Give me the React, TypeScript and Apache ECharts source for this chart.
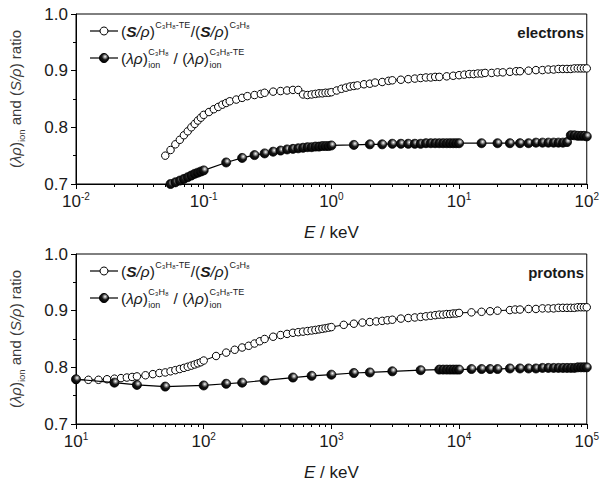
import React, { useEffect, useRef } from 'react';
import * as echarts from 'echarts';

const FONT = "'Liberation Sans', Arial, sans-serif";

// electrons: (S/rho) ratio, open circles  [E keV, ratio]
const elecStopping: [number, number][] = [
  [0.05, 0.750], [0.055, 0.760], [0.06, 0.770], [0.065, 0.778], [0.07, 0.786], [0.075, 0.793],
  [0.08, 0.800], [0.085, 0.806], [0.09, 0.812], [0.095, 0.817], [0.1, 0.822], [0.11, 0.827],
  [0.12, 0.832], [0.13, 0.836], [0.14, 0.840], [0.15, 0.843], [0.16, 0.846], [0.18, 0.849],
  [0.2, 0.852], [0.22, 0.855], [0.25, 0.857], [0.28, 0.859], [0.3, 0.861], [0.35, 0.863],
  [0.4, 0.864], [0.45, 0.865], [0.5, 0.866], [0.55, 0.866], [0.6, 0.858], [0.65, 0.857],
  [0.7, 0.858], [0.75, 0.859], [0.8, 0.860], [0.85, 0.860], [0.9, 0.861], [0.95, 0.861],
  [1.0, 0.862], [1.1, 0.865], [1.2, 0.868], [1.3, 0.870], [1.4, 0.872], [1.5, 0.873],
  [1.6, 0.874], [1.8, 0.876], [2, 0.877], [2.2, 0.879], [2.5, 0.880], [2.8, 0.882],
  [3, 0.883], [3.5, 0.884], [4, 0.885], [4.5, 0.886], [5, 0.887], [5.5, 0.888], [6, 0.888],
  [6.5, 0.889], [7, 0.889], [8, 0.890], [9, 0.891], [10, 0.892], [11, 0.893], [12, 0.894],
  [13, 0.894], [14, 0.895], [15, 0.895], [16, 0.896], [18, 0.896], [20, 0.897], [22, 0.897],
  [25, 0.898], [28, 0.899], [30, 0.899], [35, 0.900], [40, 0.901], [45, 0.901], [50, 0.902],
  [55, 0.902], [60, 0.903], [65, 0.903], [70, 0.903], [75, 0.903], [80, 0.904], [85, 0.904],
  [90, 0.904], [95, 0.904], [100, 0.904],
];

// electrons: (lambda rho)_ion ratio, filled circles
const elecIon: [number, number][] = [
  [0.05, 0.698], [0.055, 0.700], [0.06, 0.703], [0.065, 0.706], [0.07, 0.709], [0.075, 0.712],
  [0.08, 0.715], [0.085, 0.718], [0.09, 0.720], [0.095, 0.722], [0.1, 0.724], [0.15, 0.738],
  [0.2, 0.746], [0.25, 0.751], [0.3, 0.754], [0.35, 0.757], [0.4, 0.759], [0.45, 0.761],
  [0.5, 0.762], [0.55, 0.763], [0.6, 0.764], [0.65, 0.765], [0.7, 0.765], [0.75, 0.766],
  [0.8, 0.766], [0.85, 0.767], [0.9, 0.767], [0.95, 0.767], [1.0, 0.768], [1.5, 0.769],
  [2, 0.770], [2.5, 0.770], [3, 0.771], [3.5, 0.771], [4, 0.771], [4.5, 0.771], [5, 0.771],
  [5.5, 0.772], [6, 0.772], [6.5, 0.772], [7, 0.772], [7.5, 0.772], [8, 0.772], [8.5, 0.772],
  [9, 0.772], [9.5, 0.772], [10, 0.772], [15, 0.772], [20, 0.772], [25, 0.772], [30, 0.772],
  [35, 0.772], [40, 0.773], [45, 0.773], [50, 0.773], [55, 0.773], [60, 0.773], [65, 0.773],
  [70, 0.774], [75, 0.786], [80, 0.786], [85, 0.785], [90, 0.785], [95, 0.785], [100, 0.784],
];

// protons: (S/rho) ratio, open circles
const protStopping: [number, number][] = [
  [10, 0.778], [12.5, 0.778], [15, 0.778], [17.5, 0.779], [20, 0.780], [22.5, 0.781],
  [25, 0.782], [27.5, 0.783], [30, 0.784], [35, 0.786], [40, 0.788], [45, 0.790], [50, 0.791],
  [55, 0.793], [60, 0.795], [65, 0.797], [70, 0.799], [75, 0.801], [80, 0.803], [85, 0.805],
  [90, 0.807], [95, 0.809], [100, 0.812], [125, 0.820], [150, 0.826], [175, 0.831],
  [200, 0.835], [225, 0.838], [250, 0.842], [275, 0.846], [300, 0.850], [350, 0.854],
  [400, 0.857], [450, 0.859], [500, 0.861], [550, 0.862], [600, 0.863], [650, 0.864],
  [700, 0.865], [750, 0.866], [800, 0.867], [850, 0.868], [900, 0.869], [950, 0.870],
  [1000, 0.871], [1250, 0.875], [1500, 0.877], [1750, 0.879], [2000, 0.880], [2250, 0.881],
  [2500, 0.882], [2750, 0.883], [3000, 0.884], [3500, 0.886], [4000, 0.887], [4500, 0.888],
  [5000, 0.889], [5500, 0.890], [6000, 0.891], [6500, 0.892], [7000, 0.893], [7500, 0.893],
  [8000, 0.894], [8500, 0.894], [9000, 0.895], [9500, 0.895], [10000, 0.896], [12500, 0.897],
  [15000, 0.898], [17500, 0.899], [20000, 0.900], [25000, 0.901], [27500, 0.902],
  [30000, 0.902], [35000, 0.903], [40000, 0.903], [45000, 0.904], [50000, 0.904],
  [55000, 0.904], [60000, 0.905], [65000, 0.905], [70000, 0.905], [75000, 0.905],
  [80000, 0.905], [85000, 0.906], [90000, 0.906], [95000, 0.906], [100000, 0.906],
];

// protons: (lambda rho)_ion ratio, filled circles
const protIon: [number, number][] = [
  [10, 0.779], [20, 0.773], [30, 0.769], [50, 0.766], [100, 0.768], [150, 0.771], [200, 0.773],
  [300, 0.777], [500, 0.782], [700, 0.785], [1000, 0.787], [1500, 0.790], [2000, 0.791],
  [3000, 0.793], [5000, 0.795], [7000, 0.796], [7500, 0.796], [8000, 0.796], [8500, 0.796],
  [9000, 0.796], [9500, 0.796], [10000, 0.796], [12500, 0.797], [15000, 0.797],
  [17500, 0.797], [20000, 0.797], [25000, 0.798], [30000, 0.798], [35000, 0.798],
  [40000, 0.798], [45000, 0.799], [50000, 0.799], [55000, 0.799], [60000, 0.799],
  [65000, 0.799], [70000, 0.799], [75000, 0.799], [80000, 0.799], [85000, 0.800],
  [90000, 0.800], [95000, 0.800], [100000, 0.800],
];

const elecRange: [number, number] = [0.01, 100];
const protRange: [number, number] = [10, 100000];
const yRange: [number, number] = [0.7, 1.0];
const panelNames = ['electrons', 'protons'];
const seriesNames = ['(S/ρ) ratio', '(λρ)ion ratio'];

const GRID_LEFT = 73;
const GRID_RIGHT = 10;
const GRID_H = 170;
const GRID_TOPS = [14, 254];

function measure(text: string, size: number, italic = false, bold = false): number {
  const c = document.createElement('canvas').getContext('2d');
  if (!c) return text.length * size * 0.55;
  c.font = `${italic ? 'italic ' : ''}${bold ? 'bold ' : ''}${size}px 'Liberation Sans', Arial, sans-serif`;
  return c.measureText(text).width;
}

type Piece =
  | { t: string; italic?: boolean; bold?: boolean }
  | { sup: string; sub?: string };

const MAIN = 15.5;
const SMALL = 9;
const TXT = '#1a1a1a';

function textEl(x: number, y: number, text: string, size: number, italic = false, bold = false) {
  return {
    type: 'text',
    x,
    y,
    style: {
      text,
      fontSize: size,
      fontFamily: FONT,
      fontStyle: italic ? 'italic' : 'normal',
      fontWeight: bold ? 'bold' : 'normal',
      fill: TXT,
      align: 'left',
      verticalAlign: 'middle',
    },
  };
}

function rowElements(x0: number, y: number, pieces: Piece[]) {
  const els: any[] = [];
  let x = x0;
  for (const p of pieces) {
    if ('sup' in p) {
      const w1 = measure(p.sup, SMALL);
      els.push(textEl(x + 0.5, y - 6.5, p.sup, SMALL));
      let w = w1;
      if (p.sub) {
        const w2 = measure(p.sub, SMALL);
        els.push(textEl(x + 0.5, y + 6.5, p.sub, SMALL));
        w = Math.max(w1, w2);
      }
      x += w + 1;
    } else {
      els.push(textEl(x, y, p.t, MAIN, !!p.italic, !!p.bold));
      x += measure(p.t, MAIN, !!p.italic, !!p.bold);
    }
  }
  return els;
}

const ballStops = [
  { offset: 0, color: '#ffffff' },
  { offset: 0.2, color: '#a0a0a0' },
  { offset: 0.5, color: '#181818' },
  { offset: 1, color: '#000000' },
];

const ballFill = () => new echarts.graphic.RadialGradient(0.62, 0.35, 0.7, ballStops);

const ballColor = { type: 'radial', x: 0.62, y: 0.35, r: 0.7, colorStops: ballStops };

function legendElements(top: number) {
  const els: any[] = [];
  const rows = [top + 17, top + 44];
  const lx0 = 90;
  const lx1 = 118;
  const cx = 104;
  rows.forEach((y, i) => {
    els.push({
      type: 'line',
      shape: { x1: lx0, y1: y, x2: lx1, y2: y },
      style: { stroke: '#000', lineWidth: 1.2 },
    });
    els.push({
      type: 'circle',
      shape: { cx, cy: y, r: i === 0 ? 4 : 4.5 },
      style: i === 0 ? { fill: '#fff', stroke: '#000', lineWidth: 1 } : { fill: ballFill(), stroke: '#000', lineWidth: 1 },
    });
  });
  els.push(
    ...rowElements(121, rows[0], [
      { t: '(' },
      { t: 'S', italic: true, bold: true },
      { t: '/ρ', italic: true },
      { t: ')' },
      { sup: 'C₃H₈-TE' },
      { t: '/(' },
      { t: 'S', italic: true, bold: true },
      { t: '/ρ', italic: true },
      { t: ')' },
      { sup: 'C₃H₈' },
    ])
  );
  els.push(
    ...rowElements(121, rows[1], [
      { t: '(' },
      { t: 'λρ', italic: true },
      { t: ')' },
      { sup: 'C₃H₈', sub: 'ion' },
      { t: ' / (' },
      { t: 'λρ', italic: true },
      { t: ')' },
      { sup: 'C₃H₈-TE', sub: 'ion' },
    ])
  );
  return els;
}

function minorValues(range: [number, number]) {
  const out: number[] = [];
  const d0 = Math.round(Math.log10(range[0]));
  const d1 = Math.round(Math.log10(range[1]));
  for (let d = d0; d < d1; d++) {
    for (let k = 2; k <= 9; k++) out.push(Number((k * Math.pow(10, d)).toPrecision(4)));
  }
  return out;
}

function xAxes(gridIndex: number, range: [number, number]) {
  const main = {
    type: 'log',
    logBase: 10,
    gridIndex,
    min: range[0],
    max: range[1],
    position: 'bottom',
    name: '{i|E}{n| / keV}',
    nameLocation: 'middle',
    nameGap: 40,
    nameTextStyle: {
      rich: {
        i: { fontSize: 17, fontStyle: 'italic', fontFamily: FONT, color: TXT },
        n: { fontSize: 17, fontFamily: FONT, color: TXT },
      },
    },
    axisLine: { show: true, lineStyle: { color: '#000', width: 1 } },
    axisTick: { show: true, inside: false, length: 5, lineStyle: { color: '#000' } },
    axisLabel: {
      margin: 7,
      formatter: (v: number) => `{b|10}{s|${Math.round(Math.log10(v))}}`,
      rich: {
        b: { fontSize: 17, fontFamily: FONT, color: TXT },
        s: { fontSize: 10, fontFamily: FONT, color: TXT, padding: [0, 0, 11, 0] },
      },
    },
    splitLine: { show: false },
  };
  const minor = {
    type: 'log',
    logBase: 10,
    gridIndex,
    min: range[0],
    max: range[1],
    position: 'bottom',
    axisLine: { show: false },
    axisTick: { show: true, inside: false, length: 3, customValues: minorValues(range), lineStyle: { color: '#000' } },
    axisLabel: { show: false },
    splitLine: { show: false },
  };
  return [main, minor];
}

function yAxis(gridIndex: number) {
  return {
    type: 'value',
    gridIndex,
    min: yRange[0],
    max: yRange[1],
    interval: 0.1,
    name: '{n|(}{i|λρ}{n|)}{sub|ion}{n| and (}{i|S/ρ}{n|) ratio}',
    nameLocation: 'middle',
    nameRotate: 90,
    nameGap: 50,
    nameTextStyle: {
      rich: {
        n: { fontSize: 15, fontFamily: FONT, color: '#3a3a3a' },
        i: { fontSize: 15, fontFamily: FONT, fontStyle: 'italic', color: '#3a3a3a' },
        sub: { fontSize: 9.5, fontFamily: FONT, color: '#3a3a3a', padding: [11, 0, 0, 0] },
      },
    },
    axisLine: { show: true, lineStyle: { color: '#000', width: 1 } },
    axisTick: { show: true, inside: false, length: 5, lineStyle: { color: '#000' } },
    minorTick: { show: true, splitNumber: 2, length: 3, lineStyle: { color: '#000' } },
    axisLabel: {
      margin: 8,
      fontSize: 17,
      fontFamily: FONT,
      color: TXT,
      formatter: (v: number) => v.toFixed(1),
    },
    splitLine: { show: false },
    minorSplitLine: { show: false },
  };
}

function openSeries(data: [number, number][], xAxisIndex: number, yAxisIndex: number) {
  return {
    type: 'line',
    name: seriesNames[0],
    xAxisIndex,
    yAxisIndex,
    data,
    symbol: 'circle',
    symbolSize: 7.5,
    showAllSymbol: true,
    clip: true,
    lineStyle: { color: '#000', width: 1 },
    itemStyle: { color: '#ffffff', borderColor: '#000', borderWidth: 1 },
    z: 3,
  };
}

function filledSeries(data: [number, number][], xAxisIndex: number, yAxisIndex: number) {
  return {
    type: 'line',
    name: seriesNames[1],
    xAxisIndex,
    yAxisIndex,
    data,
    symbol: 'circle',
    symbolSize: 9,
    showAllSymbol: true,
    clip: true,
    lineStyle: { color: '#000', width: 1.2 },
    itemStyle: { color: ballColor, borderColor: '#000', borderWidth: 0.8 },
    z: 4,
  };
}

export default function App() {
  const ref = useRef<HTMLDivElement>(null);
  useEffect(() => {
    if (!ref.current) return;
    const chart = echarts.init(ref.current, undefined, { renderer: 'svg' });
    const option: any = {
      animation: false,
      backgroundColor: '#ffffff',
      grid: GRID_TOPS.map((top) => ({
        left: GRID_LEFT,
        right: GRID_RIGHT,
        top,
        height: GRID_H,
        show: true,
        borderColor: '#000',
        borderWidth: 1,
        backgroundColor: 'transparent',
        containLabel: false,
      })),
      xAxis: [...xAxes(0, elecRange), ...xAxes(1, protRange)],
      yAxis: [yAxis(0), yAxis(1)],
      series: [
        openSeries(elecStopping, 0, 0),
        filledSeries(elecIon, 0, 0),
        openSeries(protStopping, 2, 1),
        filledSeries(protIon, 2, 1),
      ],
      graphic: [
        ...legendElements(GRID_TOPS[0]),
        ...legendElements(GRID_TOPS[1]),
        ...GRID_TOPS.map((top, i) => ({
          type: 'text',
          x: 584,
          y: top + 18,
          style: {
            text: panelNames[i],
            fontSize: 15,
            fontWeight: 'bold',
            fontFamily: FONT,
            fill: TXT,
            align: 'right',
            verticalAlign: 'middle',
          },
        })),
      ],
    };
    chart.setOption(option);
    return () => chart.dispose();
  }, []);
  return (
    <div
      ref={ref}
      style={{ position: 'fixed', left: 0, top: 0, width: 602, height: 485, background: '#fff' }}
    />
  );
}
